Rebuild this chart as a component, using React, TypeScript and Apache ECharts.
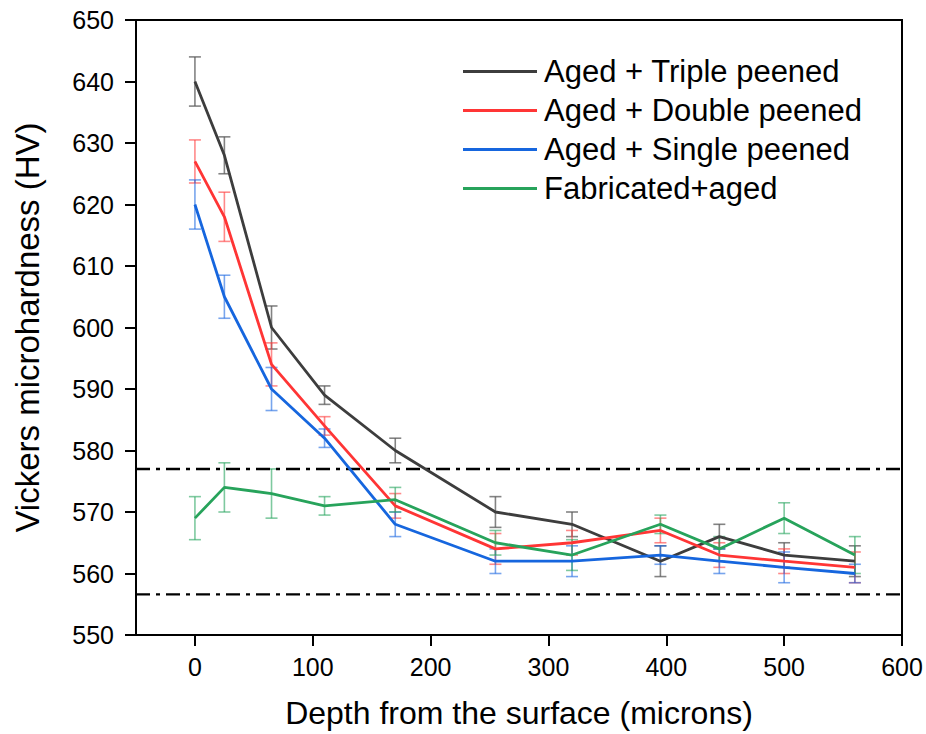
import React, { useEffect, useRef } from "react";
import * as echarts from "echarts";

const depth = [0, 25, 65, 110, 170, 255, 320, 395, 445, 500, 560];
const triple = [640, 628, 600, 589, 580, 570, 568, 562, 566, 563, 562];
const tripleErr = [4, 3, 3.5, 1.5, 2, 2.5, 2, 2.5, 2, 2, 2.5];
const double = [627, 618, 594, 584, 571, 564, 565, 567, 563, 562, 561];
const doubleErr = [3.5, 4, 3.5, 1.5, 2, 2.5, 2, 2, 2, 2, 2.5];
const single = [620, 605, 590, 582, 568, 562, 562, 563, 562, 561, 560];
const singleErr = [4, 3.5, 3.5, 1.5, 2, 2, 2.5, 1.5, 2, 2.5, 1.5];
const fab = [569, 574, 573, 571, 572, 565, 563, 568, 564, 569, 563];
const fabErr = [3.5, 4, 4, 1.5, 2, 2, 2.5, 1.5, 2, 2.5, 3];
const seriesNames = [
  "Aged + Triple peened",
  "Aged + Double peened",
  "Aged + Single peened",
  "Fabricated+aged",
];
const refLevels = [577, 556.6];
const xTicks = [0, 100, 200, 300, 400, 500, 600];

const FONT = "Liberation Sans, Arial, sans-serif";

export default function App() {
  const ref = useRef<HTMLDivElement>(null);
  useEffect(() => {
    document.body.style.margin = "0";
    const chart = echarts.init(ref.current!, null, { renderer: "svg" });
    const groups = [
      { name: seriesNames[0], vals: triple, err: tripleErr, color: "#3d3d3d", errColor: "rgba(90,90,90,0.75)" },
      { name: seriesNames[1], vals: double, err: doubleErr, color: "#ff3535", errColor: "rgba(255,60,60,0.6)" },
      { name: seriesNames[2], vals: single, err: singleErr, color: "#1666de", errColor: "rgba(30,105,225,0.6)" },
      { name: seriesNames[3], vals: fab, err: fabErr, color: "#27a35b", errColor: "rgba(40,165,95,0.6)" },
    ];
    const errSeries = groups.map((g) => ({
      type: "custom",
      name: g.name + " err",
      z: 1,
      silent: true,
      data: depth.map((x, i) => [x, g.vals[i] - g.err[i], g.vals[i] + g.err[i]]),
      encode: { x: 0, y: [1, 2] },
      renderItem: (params: any, api: any) => {
        const x = api.value(0);
        const lo = api.coord([x, api.value(1)]);
        const hi = api.coord([x, api.value(2)]);
        const hw = 6;
        const style = { stroke: g.errColor, lineWidth: 1.6, fill: "none" };
        return {
          type: "group",
          children: [
            { type: "line", shape: { x1: lo[0], y1: lo[1], x2: hi[0], y2: hi[1] }, style },
            { type: "line", shape: { x1: lo[0] - hw, y1: lo[1], x2: lo[0] + hw, y2: lo[1] }, style },
            { type: "line", shape: { x1: hi[0] - hw, y1: hi[1], x2: hi[0] + hw, y2: hi[1] }, style },
          ],
        };
      },
    }));
    const lineSeries = groups.map((g) => ({
      type: "line",
      name: g.name,
      z: 3,
      symbol: "none",
      showSymbol: false,
      color: g.color,
      lineStyle: { color: g.color, width: 2.8 },
      data: depth.map((x, i) => [x, g.vals[i]]),
    }));
    const refSeries = refLevels.map((v, k) => ({
      type: "line",
      name: "ref" + k,
      z: 2,
      symbol: "none",
      silent: true,
      lineStyle: { color: "#000", width: 2.4, type: [14, 6, 4, 6] },
      data: [
        [-50, v],
        [600, v],
      ],
    }));
    chart.setOption({
      animation: false,
      textStyle: { fontFamily: FONT },
      grid: {
        left: 136,
        right: 24,
        top: 20,
        bottom: 97,
        show: true,
        borderColor: "#000",
        borderWidth: 2,
        backgroundColor: "transparent",
      },
      legend: {
        data: seriesNames,
        orient: "vertical",
        left: 463,
        top: 56,
        padding: 0,
        icon: "rect",
        itemWidth: 74,
        itemHeight: 3,
        itemGap: 8,
        textStyle: { fontFamily: FONT, fontSize: 31, color: "#000", lineHeight: 31, padding: [0, 0, 0, 2] },
      },
      xAxis: {
        type: "value",
        min: -50,
        max: 600,
        name: "Depth from the surface (microns)",
        nameLocation: "middle",
        nameGap: 62,
        nameTextStyle: { fontFamily: FONT, fontSize: 32, color: "#000" },
        axisLine: { onZero: false, lineStyle: { color: "#000", width: 2 } },
        axisTick: { show: true, length: 11, lineStyle: { color: "#000", width: 2 }, customValues: xTicks },
        axisLabel: { fontFamily: FONT, fontSize: 25, color: "#000", margin: 19, customValues: xTicks },
        splitLine: { show: false },
      },
      yAxis: {
        type: "value",
        min: 550,
        max: 650,
        interval: 10,
        name: "Vickers microhardness (HV)",
        nameLocation: "middle",
        nameGap: 92,
        nameTextStyle: { fontFamily: FONT, fontSize: 33, color: "#000" },
        axisLine: { show: true, onZero: false, lineStyle: { color: "#000", width: 2 } },
        axisTick: { show: true, length: 11, lineStyle: { color: "#000", width: 2 } },
        axisLabel: { fontFamily: FONT, fontSize: 25, color: "#000", margin: 22 },
        splitLine: { show: false },
      },
      series: [...errSeries, ...refSeries, ...lineSeries],
    });
    return () => chart.dispose();
  }, []);
  return <div ref={ref} style={{ width: 926, height: 734 }} />;
}
